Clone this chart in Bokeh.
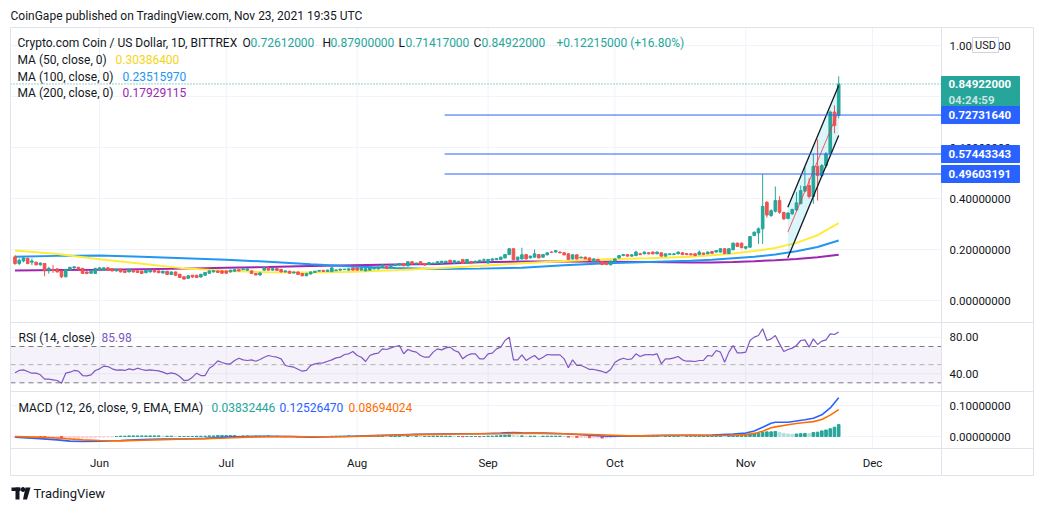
from bokeh.plotting import figure
from bokeh.models import Range1d, ColumnDataSource
from bokeh.core.properties import value
from bokeh.embed import file_html
from bokeh.resources import INLINE

# ---------------- data (day index: Jun 1, 2021 = 0) ----------------
START_DAY = -20  # first candle, May 12, 2021

opens = [
    0.171, 0.145, 0.155, 0.165, 0.150, 0.150, 0.140, 0.145, 0.117, 0.122,
    0.124, 0.116, 0.093, 0.121, 0.128, 0.130, 0.126, 0.112, 0.107, 0.106,
    0.122, 0.119, 0.128, 0.125, 0.116, 0.123, 0.116, 0.112, 0.119, 0.116,
    0.115, 0.109, 0.112, 0.119, 0.116, 0.108, 0.115, 0.102, 0.112, 0.103,
    0.093, 0.087, 0.099, 0.099, 0.092, 0.099, 0.107, 0.112, 0.116, 0.116,
    0.116, 0.112, 0.115, 0.121, 0.121, 0.119, 0.116, 0.106, 0.100, 0.119,
    0.128, 0.119, 0.125, 0.122, 0.112, 0.115, 0.108, 0.112, 0.106, 0.097,
    0.104, 0.110, 0.115, 0.118, 0.114, 0.113, 0.117, 0.119, 0.121, 0.119,
    0.128, 0.128, 0.119, 0.116, 0.119, 0.124, 0.124, 0.129, 0.133, 0.133,
    0.137, 0.139, 0.145, 0.136, 0.152, 0.143, 0.152, 0.145, 0.141, 0.145,
    0.146, 0.145, 0.149, 0.158, 0.147, 0.149, 0.161, 0.145, 0.153, 0.149,
    0.152, 0.158, 0.147, 0.158, 0.160, 0.161, 0.167, 0.180, 0.203, 0.160,
    0.163, 0.180, 0.167, 0.170, 0.180, 0.170, 0.179, 0.190, 0.190, 0.190,
    0.187, 0.183, 0.163, 0.179, 0.167, 0.170, 0.167, 0.153, 0.161, 0.153,
    0.150, 0.140, 0.154, 0.167, 0.176, 0.180, 0.174, 0.176, 0.183, 0.183,
    0.187, 0.190, 0.183, 0.187, 0.174, 0.180, 0.180, 0.183, 0.187, 0.184,
    0.183, 0.183, 0.180, 0.186, 0.183, 0.192, 0.190, 0.190, 0.203, 0.184,
    0.199, 0.225, 0.225, 0.205, 0.209, 0.255, 0.265, 0.281, 0.385, 0.333,
    0.350, 0.392, 0.345, 0.322, 0.340, 0.355, 0.380, 0.429, 0.451, 0.408,
    0.526, 0.490, 0.529, 0.575, 0.739, 0.72612,
]
highs = [
    0.178, 0.165, 0.171, 0.168, 0.165, 0.153, 0.149, 0.147, 0.132, 0.139,
    0.126, 0.118, 0.124, 0.132, 0.135, 0.132, 0.128, 0.114, 0.117, 0.128,
    0.131, 0.130, 0.131, 0.127, 0.125, 0.125, 0.117, 0.125, 0.121, 0.118,
    0.117, 0.121, 0.121, 0.120, 0.118, 0.117, 0.116, 0.114, 0.113, 0.104,
    0.095, 0.099, 0.100, 0.101, 0.104, 0.111, 0.118, 0.119, 0.118, 0.118,
    0.117, 0.120, 0.122, 0.123, 0.125, 0.125, 0.118, 0.108, 0.110, 0.131,
    0.130, 0.127, 0.127, 0.123, 0.117, 0.116, 0.113, 0.113, 0.107, 0.107,
    0.113, 0.116, 0.119, 0.120, 0.121, 0.131, 0.121, 0.124, 0.124, 0.126,
    0.130, 0.130, 0.129, 0.127, 0.130, 0.128, 0.132, 0.141, 0.135, 0.140,
    0.142, 0.147, 0.147, 0.154, 0.153, 0.148, 0.153, 0.147, 0.150, 0.148,
    0.153, 0.155, 0.155, 0.159, 0.157, 0.155, 0.162, 0.162, 0.155, 0.156,
    0.159, 0.165, 0.163, 0.165, 0.166, 0.172, 0.182, 0.206, 0.205, 0.172,
    0.207, 0.182, 0.176, 0.200, 0.182, 0.182, 0.189, 0.193, 0.198, 0.192,
    0.189, 0.185, 0.181, 0.181, 0.172, 0.172, 0.168, 0.165, 0.163, 0.155,
    0.152, 0.156, 0.165, 0.178, 0.182, 0.182, 0.181, 0.195, 0.187, 0.192,
    0.190, 0.192, 0.192, 0.189, 0.185, 0.185, 0.185, 0.192, 0.190, 0.186,
    0.185, 0.185, 0.196, 0.188, 0.192, 0.194, 0.198, 0.205, 0.205, 0.205,
    0.227, 0.227, 0.227, 0.213, 0.253, 0.270, 0.287, 0.496, 0.390, 0.358,
    0.447, 0.409, 0.348, 0.346, 0.360, 0.425, 0.451, 0.523, 0.480, 0.575,
    0.631, 0.535, 0.582, 0.745, 0.765, 0.879,
]
lows = [
    0.140, 0.139, 0.150, 0.142, 0.139, 0.138, 0.137, 0.095, 0.105, 0.108,
    0.110, 0.088, 0.091, 0.118, 0.124, 0.121, 0.104, 0.103, 0.105, 0.104,
    0.119, 0.117, 0.117, 0.114, 0.114, 0.110, 0.107, 0.111, 0.110, 0.108,
    0.104, 0.107, 0.110, 0.110, 0.107, 0.106, 0.100, 0.100, 0.097, 0.088,
    0.082, 0.085, 0.090, 0.089, 0.091, 0.098, 0.105, 0.110, 0.108, 0.105,
    0.105, 0.110, 0.113, 0.114, 0.119, 0.117, 0.105, 0.099, 0.098, 0.117,
    0.117, 0.118, 0.116, 0.110, 0.110, 0.105, 0.107, 0.100, 0.095, 0.095,
    0.102, 0.108, 0.113, 0.112, 0.112, 0.112, 0.115, 0.117, 0.120, 0.118,
    0.118, 0.118, 0.118, 0.115, 0.118, 0.122, 0.122, 0.127, 0.124, 0.131,
    0.136, 0.137, 0.135, 0.134, 0.141, 0.142, 0.141, 0.137, 0.140, 0.143,
    0.145, 0.144, 0.148, 0.147, 0.146, 0.148, 0.143, 0.144, 0.145, 0.148,
    0.151, 0.156, 0.145, 0.157, 0.159, 0.160, 0.165, 0.178, 0.158, 0.155,
    0.161, 0.161, 0.165, 0.168, 0.165, 0.168, 0.177, 0.186, 0.188, 0.185,
    0.177, 0.159, 0.161, 0.161, 0.165, 0.162, 0.155, 0.151, 0.152, 0.139,
    0.139, 0.138, 0.152, 0.165, 0.174, 0.172, 0.172, 0.174, 0.178, 0.181,
    0.181, 0.181, 0.181, 0.172, 0.172, 0.179, 0.178, 0.181, 0.178, 0.178,
    0.177, 0.174, 0.178, 0.179, 0.181, 0.183, 0.188, 0.188, 0.182, 0.182,
    0.197, 0.210, 0.205, 0.200, 0.207, 0.253, 0.222, 0.222, 0.325, 0.328,
    0.345, 0.340, 0.317, 0.318, 0.336, 0.352, 0.377, 0.425, 0.400, 0.379,
    0.392, 0.485, 0.520, 0.570, 0.656, 0.71417,
]
closes = [
    0.145, 0.158, 0.167, 0.145, 0.155, 0.140, 0.147, 0.117, 0.126, 0.119,
    0.112, 0.093, 0.122, 0.130, 0.132, 0.123, 0.106, 0.106, 0.115, 0.126,
    0.128, 0.128, 0.119, 0.116, 0.123, 0.112, 0.110, 0.123, 0.112, 0.110,
    0.106, 0.119, 0.119, 0.112, 0.109, 0.115, 0.102, 0.112, 0.099, 0.090,
    0.084, 0.097, 0.092, 0.090, 0.103, 0.110, 0.116, 0.117, 0.110, 0.107,
    0.107, 0.119, 0.121, 0.116, 0.124, 0.124, 0.106, 0.100, 0.108, 0.129,
    0.119, 0.125, 0.118, 0.112, 0.116, 0.107, 0.112, 0.102, 0.097, 0.106,
    0.112, 0.115, 0.118, 0.114, 0.119, 0.128, 0.120, 0.123, 0.123, 0.124,
    0.119, 0.119, 0.128, 0.125, 0.128, 0.127, 0.131, 0.139, 0.126, 0.139,
    0.141, 0.145, 0.136, 0.152, 0.143, 0.147, 0.143, 0.139, 0.149, 0.147,
    0.152, 0.154, 0.154, 0.149, 0.156, 0.154, 0.145, 0.161, 0.147, 0.154,
    0.158, 0.160, 0.161, 0.163, 0.165, 0.170, 0.180, 0.203, 0.160, 0.170,
    0.179, 0.163, 0.174, 0.183, 0.167, 0.180, 0.187, 0.189, 0.196, 0.187,
    0.179, 0.161, 0.179, 0.163, 0.170, 0.163, 0.157, 0.163, 0.154, 0.141,
    0.141, 0.154, 0.163, 0.176, 0.180, 0.174, 0.179, 0.190, 0.180, 0.190,
    0.183, 0.183, 0.190, 0.174, 0.183, 0.183, 0.183, 0.190, 0.180, 0.180,
    0.179, 0.176, 0.190, 0.181, 0.190, 0.185, 0.196, 0.203, 0.184, 0.203,
    0.225, 0.212, 0.207, 0.211, 0.251, 0.268, 0.281, 0.369, 0.335, 0.352,
    0.392, 0.346, 0.320, 0.343, 0.357, 0.383, 0.431, 0.447, 0.408, 0.526,
    0.490, 0.529, 0.575, 0.739, 0.686, 0.84922,
]
rsi = [
    41.0, 43.6, 44.3, 42.5, 40.6, 40.6, 38.8, 34.0, 34.0, 33.3,
    32.5, 29.6, 40.6, 41.7, 43.6, 42.8, 38.0, 37.7, 38.8, 43.6,
    45.4, 48.3, 47.9, 45.4, 43.9, 44.3, 43.6, 45.4, 44.3, 46.1,
    44.7, 43.6, 44.3, 43.6, 43.2, 41.7, 39.9, 41.0, 39.9, 36.9,
    32.5, 32.9, 36.2, 40.6, 38.0, 38.0, 46.1, 49.1, 54.2, 52.4,
    50.9, 50.9, 54.6, 57.1, 55.3, 54.6, 55.3, 53.8, 55.7, 58.2,
    60.1, 59.0, 58.2, 56.4, 49.1, 48.0, 47.2, 45.0, 42.8, 43.6,
    49.1, 50.9, 51.6, 52.0, 53.8, 55.3, 57.5, 58.2, 61.2, 61.9,
    64.5, 60.1, 58.2, 53.5, 60.1, 61.9, 62.7, 67.4, 66.7, 68.5,
    70.0, 71.1, 61.9, 66.7, 64.9, 63.8, 60.1, 58.2, 58.2, 63.8,
    67.4, 66.3, 68.5, 69.3, 65.6, 63.8, 56.4, 60.1, 61.9, 61.9,
    56.4, 56.4, 61.9, 62.7, 67.4, 69.3, 76.6, 80.3, 55.3, 55.3,
    60.8, 54.6, 57.5, 60.1, 55.7, 58.2, 61.2, 60.8, 60.8, 60.8,
    56.4, 46.5, 55.3, 49.1, 49.1, 47.2, 44.7, 44.7, 43.6, 42.5,
    41.0, 44.7, 52.4, 55.3, 57.1, 55.7, 56.4, 61.9, 59.0, 60.8,
    61.2, 60.8, 61.9, 50.9, 56.4, 56.4, 57.5, 59.0, 55.3, 53.8,
    53.8, 53.5, 54.6, 54.6, 60.1, 59.3, 65.6, 63.8, 52.7, 63.8,
    71.1, 63.0, 63.0, 63.8, 76.6, 80.3, 82.1, 89.5, 76.6, 78.4,
    82.1, 72.9, 64.5, 66.7, 68.2, 71.1, 76.6, 77.3, 69.3, 78.4,
    72.2, 75.9, 77.3, 84.0, 83.2, 85.98,
]
macd_hist = [
    -0.002, -0.003, -0.003, -0.004, -0.004, -0.004, -0.005, -0.006, -0.006, -0.006,
    -0.006, -0.007, -0.007, -0.007, -0.006, -0.006, -0.005, -0.004, -0.003, -0.003,
    -0.002, -0.002, -0.001, -0.001, 0.000, 0.001, 0.001, 0.002, 0.002, 0.002,
    0.002, 0.002, 0.002, 0.002, 0.002, 0.001, 0.001, 0.001, 0.000, 0.000,
    0.000, 0.000, 0.000, 0.001, 0.001, 0.001, 0.002, 0.002, 0.003, 0.003,
    0.003, 0.003, 0.003, 0.002, 0.002, 0.002, 0.001, 0.001, 0.001, 0.001,
    0.002, 0.001, 0.001, 0.000, -0.001, -0.001, -0.001, -0.002, -0.002, -0.002,
    -0.001, -0.001, -0.001, 0.000, 0.000, 0.001, 0.001, 0.001, 0.001, 0.002,
    0.001, 0.001, 0.001, 0.001, 0.001, 0.001, 0.002, 0.002, 0.001, 0.002,
    0.002, 0.002, 0.001, 0.002, 0.001, 0.001, 0.000, 0.000, 0.000, 0.001,
    0.001, 0.001, 0.001, 0.001, 0.000, 0.000, -0.001, 0.000, 0.000, 0.000,
    -0.001, 0.000, 0.001, 0.001, 0.002, 0.003, 0.004, 0.005, 0.003, 0.002,
    0.002, 0.001, 0.001, 0.001, 0.000, 0.001, 0.001, 0.001, 0.001, 0.001,
    0.000, -0.002, -0.002, -0.003, -0.003, -0.003, -0.004, -0.004, -0.004, -0.005,
    -0.005, -0.004, -0.002, -0.001, 0.000, 0.000, 0.001, 0.002, 0.002, 0.002,
    0.002, 0.002, 0.002, 0.001, 0.001, 0.001, 0.001, 0.001, 0.000, 0.000,
    0.000, 0.000, 0.001, 0.001, 0.002, 0.002, 0.003, 0.003, 0.002, 0.003,
    0.004, 0.004, 0.004, 0.004, 0.007, 0.009, 0.010, 0.013, 0.015, 0.015,
    0.016, 0.013, 0.010, 0.008, 0.007, 0.008, 0.009, 0.010, 0.009, 0.013,
    0.014, 0.018, 0.021, 0.025, 0.030, 0.03832446,
]
macd_days = [-20, -15, -10, -7, -4, 0, 5, 10, 15, 20, 25, 30, 35, 40, 45, 50, 55, 60,
             65, 70, 75, 80, 85, 90, 95, 98, 100, 105, 110, 115, 120, 125, 130, 135,
             140, 145, 150, 153, 155, 157, 159, 160, 163, 165, 167, 169, 171, 173, 175]
macd_line = [-0.002, -0.006, -0.011, -0.015, -0.016, -0.015, -0.013, -0.010, -0.008, -0.008,
             -0.006, -0.002, 0.000, 0.001, 0.000, -0.002, -0.001, 0.001, 0.003, 0.005,
             0.007, 0.008, 0.009, 0.009, 0.011, 0.013, 0.012, 0.011, 0.009, 0.005,
             0.001, 0.001, 0.003, 0.004, 0.004, 0.005, 0.008, 0.011, 0.018, 0.030,
             0.043, 0.046, 0.046, 0.050, 0.054, 0.059, 0.070, 0.092, 0.1252647]
signal_line = [0.000, -0.002, -0.005, -0.008, -0.011, -0.013, -0.014, -0.012, -0.010, -0.008,
               -0.007, -0.005, -0.002, -0.001, 0.000, -0.001, -0.001, 0.000, 0.002, 0.004,
               0.006, 0.007, 0.008, 0.009, 0.009, 0.010, 0.010, 0.010, 0.009, 0.007,
               0.005, 0.002, 0.002, 0.003, 0.004, 0.003, 0.004, 0.006, 0.010, 0.017,
               0.028, 0.031, 0.038, 0.042, 0.045, 0.048, 0.055, 0.069, 0.08694024]
ma_days = [-20, -10, 0, 10, 20, 30, 40, 50, 60, 70, 80, 90, 100, 110, 120, 130,
           140, 145, 150, 155, 160, 165, 170, 175]
ma50 = [0.196, 0.182, 0.162, 0.144, 0.126, 0.116, 0.111, 0.110, 0.113, 0.119, 0.126, 0.135,
        0.146, 0.155, 0.162, 0.166, 0.172, 0.177, 0.184, 0.194, 0.206, 0.226, 0.256, 0.303864]
ma100 = [0.172, 0.175, 0.176, 0.172, 0.166, 0.160, 0.152, 0.142, 0.133, 0.127, 0.124, 0.125,
         0.128, 0.138, 0.146, 0.151, 0.156, 0.160, 0.166, 0.172, 0.180, 0.193, 0.210, 0.2351597]
ma200 = [0.118, 0.120, 0.121, 0.123, 0.125, 0.128, 0.131, 0.135, 0.138, 0.141, 0.143, 0.150,
         0.153, 0.153, 0.152, 0.151, 0.149, 0.149, 0.151, 0.154, 0.158, 0.163, 0.170, 0.17929115]

month_days = [0, 30, 61, 92, 122, 153, 183]
month_labels = ["Jun", "Jul", "Aug", "Sep", "Oct", "Nov", "Dec"]
price_ticks = [0.0, 0.2, 0.4, 0.6, 0.8, 1.0]
rsi_ticks = [80, 40]
macd_ticks = [0.1, 0.0]
level_values = [0.72731640, 0.57443343, 0.49603191]
level_labels = ["0.72731640", "0.57443343", "0.49603191"]
level_start_day = 81.7
channel_days = [162.95, 175.0]
channel_upper = [0.366, 0.843]
channel_lower = [0.1675, 0.647]
channel_mid = [0.268, 0.745]
last_price = 0.84922

# ---------------- page geometry (pixels) ----------------
W, H = 1036, 508
JUN1_PX, PX_PER_DAY = 99.0, 4.224          # time scale
ZERO_PY, PX_PER_PRICE = 300.0, 255.0       # price pane
RSI70_PY, PX_PER_RSI = 346.0, 0.9075       # RSI pane
MACD0_PY, PX_PER_MACD = 436.0, 310.0       # MACD pane
BOX_L, BOX_R, BOX_T, BOX_B = 10, 1033, 27, 475
AXIS_X = 941
SEPS = [322, 391, 448]


def xd(px):
    return (px - JUN1_PX) / PX_PER_DAY


def yd(py):
    return (ZERO_PY - py) / PX_PER_PRICE


def rsi_at(py):
    return 70 - (py - RSI70_PY) / PX_PER_RSI


def macd_at(py):
    return (MACD0_PY - py) / PX_PER_MACD


FONT = "Roboto"
TXT = "#131722"
UP, DOWN = "#26a69a", "#ef5350"
LINE = "#e0e3eb"
GRID = "#f0f3fa"

p = figure(width=W, height=H, x_range=Range1d(xd(0), xd(W)), y_range=Range1d(yd(H), yd(0)),
           x_axis_type=None, y_axis_type=None, toolbar_location=None, output_backend="svg",
           min_border=0, background_fill_color="white", border_fill_color="white",
           outline_line_color=None)
p.extra_y_ranges = {"rsi": Range1d(rsi_at(H), rsi_at(0)), "macd": Range1d(macd_at(H), macd_at(0))}
p.xgrid.visible = False
p.ygrid.visible = False

XL, XA, XR = xd(BOX_L), xd(AXIS_X), xd(BOX_R)

# grid lines
p.segment(x0=month_days, y0=[yd(BOX_T)] * 7, x1=month_days, y1=[yd(SEPS[2])] * 7,
          line_color=GRID, line_width=1)
p.segment(x0=XL, y0=price_ticks, x1=XA, y1=price_ticks, line_color=GRID)
p.segment(x0=XL, y0=rsi_ticks, x1=XA, y1=rsi_ticks, line_color=GRID, y_range_name="rsi")
p.segment(x0=XL, y0=macd_ticks, x1=XA, y1=macd_ticks, line_color=GRID, y_range_name="macd")

# RSI band
p.varea(x=[XL, XA], y1=[30, 30], y2=[70, 70], fill_color="#7e57c2", fill_alpha=0.08,
        y_range_name="rsi")
p.segment(x0=XL, y0=[70, 30], x1=XA, y1=[70, 30], line_color="#787b86", line_dash="5 4",
          y_range_name="rsi")
p.segment(x0=XL, y0=[50], x1=XA, y1=[50], line_color="#787b86", line_alpha=0.55,
          line_dash="5 4", y_range_name="rsi")

days = list(range(START_DAY, START_DAY + len(closes)))

# moving averages
p.line(ma_days, ma200, line_color="#9c27b0", line_width=2)
p.line(ma_days, ma100, line_color="#2196f3", line_width=2)
p.line(ma_days, ma50, line_color="#ffeb3b", line_width=2)

# channel drawing (fill)
p.patch(channel_days + channel_days[::-1], channel_upper + channel_lower[::-1],
        fill_color="#00bcd4", fill_alpha=0.14, line_color=None)

# candles
colors = [UP if c >= o else DOWN for o, c in zip(opens, closes)]
src = ColumnDataSource(dict(x=days, o=opens, h=highs, l=lows, c=closes,
                            top=[max(o, c) for o, c in zip(opens, closes)],
                            bot=[min(o, c) for o, c in zip(opens, closes)], col=colors))
p.segment(x0="x", y0="h", x1="x", y1="l", line_color="col", line_width=1, source=src)
p.vbar(x="x", top="top", bottom="bot", width=0.62, fill_color="col", line_color="col",
       source=src)

p.line(channel_days, channel_upper, line_color=TXT, line_width=1.3)
p.line(channel_days, channel_lower, line_color=TXT, line_width=1.3)
p.line(channel_days, channel_mid, line_color="#f23645", line_width=1, line_alpha=0.8)

# horizontal levels and last price line
p.segment(x0=level_start_day, y0=level_values, x1=XA, y1=level_values,
          line_color="#2962ff", line_width=1)
p.segment(x0=XL, y0=[last_price], x1=XA, y1=[last_price], line_color=UP,
          line_dash="1 2", line_width=1)

# RSI line
p.line(days, rsi, line_color="#7e57c2", line_width=1.2, y_range_name="rsi")

# MACD histogram + lines
hcol = []
for i, h in enumerate(macd_hist):
    prev = macd_hist[i - 1] if i > 0 else h
    if h >= 0:
        hcol.append("#26a69a" if h >= prev else "#b2dfdb")
    else:
        hcol.append("#ff5252" if h < prev else "#ffcdd2")
p.vbar(x=days, top=macd_hist, bottom=0, width=0.62, fill_color=hcol, line_color=hcol,
       y_range_name="macd")
p.line(macd_days, macd_line, line_color="#2962ff", line_width=1.6, y_range_name="macd")
p.line(macd_days, signal_line, line_color="#ff6d00", line_width=1.6, y_range_name="macd")

# widget frame, pane separators, price-scale separator
p.segment(x0=XL, y0=[yd(v) for v in [BOX_T] + SEPS + [BOX_B]], x1=XR,
          y1=[yd(v) for v in [BOX_T] + SEPS + [BOX_B]], line_color=LINE, line_width=1)
p.segment(x0=[XL, XA, XR], y0=yd(BOX_T), x1=[XL, XA, XR], y1=yd(BOX_B),
          line_color=LINE, line_width=1)


def text_at(xs, ys, texts, color=TXT, size="12px", align="left", style="normal",
            alpha=1.0, y_range_name="default"):
    p.text(x=xs, y=ys, text=texts, text_color=color, text_alpha=alpha,
           text_font=value(FONT), text_font_size=value(size), text_font_style=style,
           text_align=align, text_baseline="middle", y_range_name=y_range_name)


def txt(text, px, py, **kw):
    text_at([xd(px)], [yd(py)], [text], **kw)


# price scale labels (drawn through each pane's scale)
TX = xd(949)
text_at([TX] * len(price_ticks), price_ticks, ["%.8f" % v for v in price_ticks], size="11.5px")
text_at([TX] * len(rsi_ticks), rsi_ticks, ["%.2f" % v for v in rsi_ticks], size="11.5px",
        y_range_name="rsi")
text_at([TX] * len(macd_ticks), macd_ticks, ["%.8f" % v for v in macd_ticks], size="11.5px",
        y_range_name="macd")

# time scale labels
text_at(month_days, [yd(462)] * len(month_days), month_labels, size="11.5px", align="center")

# price tags
TAG_R = xd(1019)
p.quad(left=XA, right=TAG_R, top=yd(76), bottom=yd(106), fill_color=UP, line_color=UP)
text_at([xd(948)], [last_price], ["%.8f" % last_price], color="white", size="11.5px",
        style="bold")
txt("04:24:59", 948, 99, color="white", size="11.5px", style="bold", alpha=0.75)
p.quad(left=XA, right=TAG_R, top=[v + 8.5 / PX_PER_PRICE for v in level_values],
       bottom=[v - 8.5 / PX_PER_PRICE for v in level_values],
       fill_color="#2962ff", line_color="#2962ff")
text_at([xd(948)] * 3, level_values, level_labels, color="white", size="11.5px", style="bold")

# USD badge
p.quad(left=xd(972), right=xd(998), top=yd(37), bottom=yd(52), fill_color="white",
       line_color="#d1d4dc")
txt("USD", 985, 44.5, size="11px", align="center")

# legends and captions
txt("CoinGape published on TradingView.com, Nov 23, 2021 19:35 UTC", 10, 15, size="12px")
txt("Crypto.com Coin / US Dollar, 1D, BITTREX", 17, 42)
for letter, lx, val, vx in (("O", 242, "0.72612000", 250), ("H", 322, "0.87900000", 330),
                            ("L", 398, "0.71417000", 405), ("C", 473, "0.84922000", 481)):
    txt(letter, lx, 42)
    txt(val, vx, 42, color=UP)
txt("+0.12215000 (+16.80%)", 556, 42, color=UP)
txt("MA (50, close, 0)", 17, 59)
txt("0.30386400", 115, 59, color="#f5d416")
txt("MA (100, close, 0)", 17, 76)
txt("0.23515970", 122, 76, color="#2196f3")
txt("MA (200, close, 0)", 17, 92)
txt("0.17929115", 122, 92, color="#9c27b0")
txt("RSI (14, close)", 18, 337)
txt("85.98", 101, 337, color="#7e57c2")
txt("MACD (12, 26, close, 9, EMA, EMA)", 18, 407)
txt("0.03832446", 211, 407, color="#26a69a")
txt("0.12526470", 279, 407, color="#2962ff")
txt("0.08694024", 348, 407, color="#ff6d00")

# TradingView footer mark + name
p.quad(left=xd(11), right=xd(20), top=yd(487), bottom=yd(490.5), fill_color=TXT, line_color=None)
p.quad(left=xd(15), right=xd(19), top=yd(487), bottom=yd(499), fill_color=TXT, line_color=None)
p.scatter([xd(22.5)], [yd(489)], size=4, color=TXT)
p.patch([xd(25), xd(30), xd(26.5), xd(22.5)], [yd(487), yd(487), yd(499), yd(499)],
        fill_color=TXT, line_color=None)
txt("TradingView", 33, 493, size="13px")

open("out.html", "w").write(file_html(p, INLINE))
